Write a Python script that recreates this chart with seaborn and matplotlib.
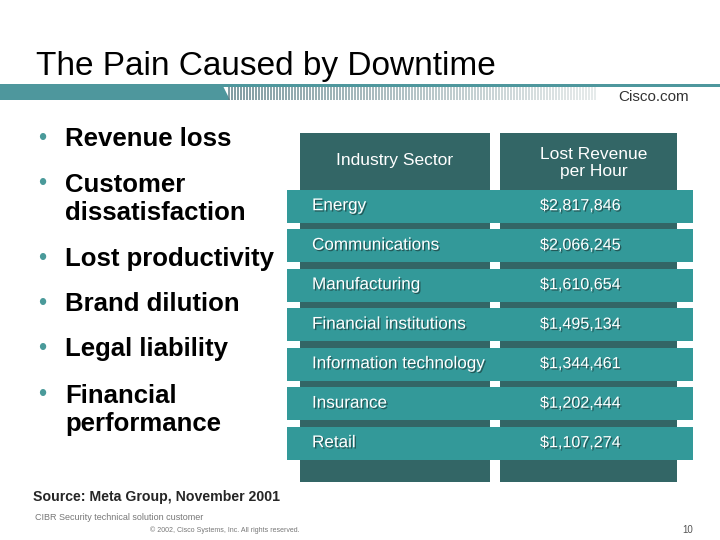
import numpy as np
import pandas as pd
import matplotlib
matplotlib.use("Agg")
import matplotlib.pyplot as plt
import matplotlib.patheffects as pe
import seaborn as sns

# ---- data ----
sectors = ["Energy", "Communications", "Manufacturing", "Financial institutions",
           "Information technology", "Insurance", "Retail"]
revenue = [2817846, 2066245, 1610654, 1495134, 1344461, 1202444, 1107274]
headers = ["Industry Sector", "Lost Revenue\nper Hour"]
bullets = ["Revenue loss", "Customer\ndissatisfaction", "Lost productivity",
           "Brand dilution", "Legal liability", "Financial\nperformance"]
title = "The Pain Caused by Downtime"
source = "Source: Meta Group, November 2001"

sns.set_theme(style="white")
plt.rcParams["font.family"] = ["Liberation Sans", "DejaVu Sans"]

TEAL = "#339999"
DARK = "#336666"
BAR = "#4e979d"

fig = plt.figure(figsize=(7.2, 5.4), dpi=100)
fig.patch.set_facecolor("white")

# background / decoration axes in pixel coordinates
bg = fig.add_axes([0, 0, 1, 1])
bg.set_xlim(0, 720)
bg.set_ylim(540, 0)
bg.axis("off")

bg.text(36, 66, title, fontsize=24, va="center", ha="left", color="black")
bg.fill([0, 222, 230, 0], [84, 84, 100, 100], color=BAR, lw=0)
bg.fill_between([222, 720], 84, 87, color=BAR, lw=0)
xs = np.arange(229, 598, 3.0)
for x in xs:
    t = (x - 229) / (598 - 229)
    c = (1 - t) * np.array([0.36, 0.50, 0.53]) + t * np.array([0.88, 0.90, 0.90])
    bg.plot([x, x], [87, 100], color=c, lw=1.1, solid_capstyle="butt")
bg.text(654, 97, "Cisco.com", fontsize=11, ha="center", va="center", color="#333333")

# bullets
bullet_y = [139, 199, 259, 304, 349, 410]
for y, b in zip(bullet_y, bullets):
    yb = y if "\n" not in b else y - 15
    bg.text(42, yb, "•", fontsize=17, color="#4a9a9a", ha="center", va="center")
    bg.text(65, y, b, fontsize=18.5, fontweight="bold", ha="left", va="center",
            linespacing=1.2, color="black")

bg.text(33, 497, source, fontsize=10.2, fontweight="bold", ha="left", va="center")
bg.text(35, 517, "CIBR Security technical solution customer", fontsize=6.5,
        color="#777777", ha="left", va="center")
bg.text(150, 530, "© 2002, Cisco Systems, Inc. All rights reserved.", fontsize=5.0,
        color="#777777", ha="left", va="center")
bg.text(688, 530, "10", fontsize=7, color="#555555", ha="center", va="center")

# table axes
top_px, bot_px = 133, 482
ax = fig.add_axes([287 / 720, 1 - bot_px / 540, 406 / 720, (bot_px - top_px) / 540])
pitch, c0 = 39.5, 206.5
y_top = (top_px - c0) / pitch
y_bot = (bot_px - c0) / pitch

ax.bar([108, 301.5], [y_bot - y_top] * 2, width=[190, 177], bottom=y_top,
       color=DARK, lw=0, zorder=0.5)

df = pd.DataFrame({"sector": sectors, "band": [406] * len(sectors)})
sns.barplot(data=df, x="band", y="sector", orient="h", color=TEAL, saturation=1,
            width=33 / pitch, linewidth=0, ax=ax, zorder=1)

ax.set_xlim(0, 406)
ax.set_ylim(y_bot, y_top)
ax.axis("off")

shadow = [pe.withSimplePatchShadow(offset=(1, -1), shadow_rgbFace="#1c3d3d", alpha=0.7)]
ax.text(108, (161 - c0) / pitch, headers[0], fontsize=12.5, color="white",
        ha="center", va="center", zorder=3)
ax.text(307, (163 - c0) / pitch, headers[1], fontsize=12.5, color="white",
        ha="center", va="center", linespacing=1.15, zorder=3)
for i, (s, v) in enumerate(zip(sectors, revenue)):
    ax.text(25, i - 0.02, s, fontsize=12.3, color="white", ha="left", va="center",
            path_effects=shadow, zorder=3)
    ax.text(253, i - 0.02, f"${v:,}", fontsize=11.6, color="white", ha="left",
            va="center", path_effects=shadow, zorder=3)

fig.savefig("out.png", dpi=100, facecolor="white")
